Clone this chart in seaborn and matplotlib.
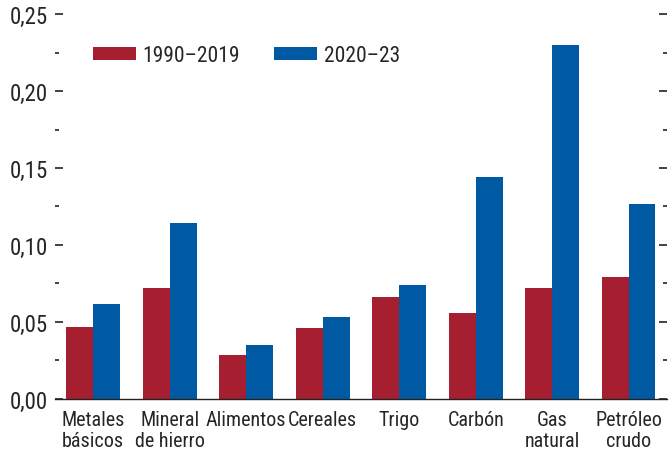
import pandas as pd
import seaborn as sns
import matplotlib.pyplot as plt
from matplotlib.ticker import MultipleLocator, FuncFormatter

sns.set_style('white')
plt.rcParams['font.family'] = ['Roboto Condensed', 'Liberation Sans', 'DejaVu Sans']

# Datos
categorias = ['Metales\nbásicos', 'Mineral\nde hierro', 'Alimentos', 'Cereales',
              'Trigo', 'Carbón', 'Gas\nnatural', 'Petróleo\ncrudo']
periodos = ['1990–2019', '2020–23']
v_1990_2019 = [0.047, 0.072, 0.0285, 0.046, 0.066, 0.056, 0.072, 0.079]
v_2020_23 = [0.0615, 0.114, 0.035, 0.053, 0.074, 0.144, 0.230, 0.1265]
colores = ['#A51F30', '#005AA3']

df = pd.DataFrame({
    'Categoria': categorias * 2,
    'Periodo': [periodos[0]] * len(categorias) + [periodos[1]] * len(categorias),
    'Valor': v_1990_2019 + v_2020_23,
})

fig = plt.figure(figsize=(6.71, 4.56), dpi=100)
ax = fig.add_axes([0.082, 0.123, 0.912, 0.844])

sns.barplot(data=df, x='Categoria', y='Valor', hue='Periodo', order=categorias,
            palette=colores, width=0.7, saturation=1, linewidth=0, ax=ax)

ax.set_xlim(-0.5, 7.5)
ax.set_ylim(0, 0.25)
ax.set_xlabel('')
ax.set_ylabel('')

# Ejes
for s in ['top', 'left', 'right']:
    ax.spines[s].set_visible(False)
ax.spines['bottom'].set_color('#222222')
ax.spines['bottom'].set_linewidth(1.0)

ax.yaxis.set_major_locator(MultipleLocator(0.05))
ax.yaxis.set_minor_locator(MultipleLocator(0.025))
ax.yaxis.set_major_formatter(FuncFormatter(lambda v, p: f'{v:.2f}'.replace('.', ',')))
ax.tick_params(axis='y', which='major', direction='in', length=6, width=1.2,
               left=True, right=True, labelsize=16.5, pad=5, color='#222222')
ax.tick_params(axis='y', which='minor', direction='in', length=3, width=1.2,
               left=True, right=True, color='#222222')

ax.set_xticks(range(len(categorias)))
ax.set_xticklabels(categorias, linespacing=1.1)
ax.set_xticks([i + 0.5 for i in range(len(categorias) - 1)], minor=True)
ax.tick_params(axis='x', which='major', length=0, labelsize=14.5, pad=8)
ax.tick_params(axis='x', which='minor', direction='in', length=6, width=1.2, color='#222222')

ax.legend(ncol=2, frameon=False, loc='upper left', bbox_to_anchor=(0.03, 0.97),
          fontsize=15.5, handlelength=2.0, handleheight=0.55, columnspacing=1.6,
          handletextpad=0.3)

plt.savefig('out.png', dpi=100)
